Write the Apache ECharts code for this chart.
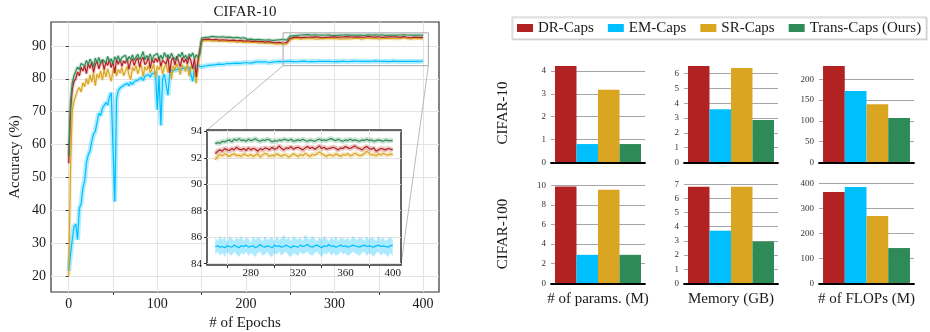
<!DOCTYPE html>
<html>
<head>
<meta charset="utf-8">
<script src="https://cdn.jsdelivr.net/npm/echarts@6/dist/echarts.min.js"></script>
<style>
  html, body { margin: 0; padding: 0; background: #fff; }
  #chart { width: 930px; height: 332px; }
</style>
</head>
<body>
<div id="chart"></div>
<script>
// ---- training curves (test accuracy, %), every 2 epochs ----
const epochs = [
  0,2,4,6,8,10,12,14,16,18, 20,22,24,26,28,30,32,34,36,38,
  40,42,44,46,48,50,52,54,56,58, 60,62,64,66,68,70,72,74,76,78,
  80,82,84,86,88,90,92,94,96,98, 100,102,104,106,108,110,112,114,116,118,
  120,122,124,126,128,130,132,134,136,138, 140,142,144,146,148,150,152,154,156,158,
  160,162,164,166,168,170,172,174,176,178, 180,182,184,186,188,190,192,194,196,198,
  200,202,204,206,208,210,212,214,216,218, 220,222,224,226,228,230,232,234,236,238,
  240,242,244,246,248,250,252,254,256,258, 260,262,264,266,268,270,272,274,276,278,
  280,282,284,286,288,290,292,294,296,298, 300,302,304,306,308,310,312,314,316,318,
  320,322,324,326,328,330,332,334,336,338, 340,342,344,346,348,350,352,354,356,358,
  360,362,364,366,368,370,372,374,376,378, 380,382,384,386,388,390,392,394,396,398,
  400
];
const transCaps = [
  56.3,72.5,78.8,81.0,82.3,83.6,82.8,84.7,85.2,83.9, 85.6,84.4,86.0,85.1,83.6,86.3,85.0,86.5,84.6,85.9,
  86.4,84.9,86.8,85.3,86.1,84.5,86.7,85.8,87.0,85.2, 86.5,85.9,87.2,85.4,86.8,86.0,87.3,85.7,86.6,87.5,
  85.9,86.9,88.3,85.8,87.1,86.3,87.6,85.6,87.0,86.4, 87.7,86.1,87.2,85.9,88.0,86.6,87.4,86.2,87.8,86.5,
  87.1,85.8,87.5,86.7,88.1,86.3,87.2,85.9,87.6,86.8, 87.9,86.1,87.3,86.5,87.6,92.4,92.9,92.6,93.1,92.7,
  92.5,92.9,92.6,92.8,92.4,92.7,92.5,92.8,92.3,92.6, 92.4,92.7,92.2,92.5,92.3,92.6,92.1,92.4,92.2,92.5,
  92.3,92.0,92.4,92.1,92.3,91.9,92.2,92.0,92.3,91.9, 92.1,91.8,92.1,91.9,92.2,91.7,92.0,91.8,91.6,91.9,
  91.7,92.0,91.6,91.8,91.7,93.05,93.15,93.1,93.25,93.2, 93.3,93.35,93.2,93.4,93.3,93.45,93.3,93.35,93.25,93.4,
  93.3,93.35,93.45,93.3,93.25,93.35,93.3,93.4,93.35,93.2, 93.3,93.25,93.35,93.3,93.4,93.35,93.3,93.4,93.25,93.3,
  93.35,93.3,93.4,93.3,93.25,93.35,93.3,93.25,93.35,93.4, 93.3,93.35,93.3,93.4,93.45,93.35,93.3,93.4,93.3,93.25,
  93.35,93.3,93.4,93.3,93.35,93.3,93.25,93.35,93.3,93.4, 93.3,93.35,93.25,93.3,93.35,93.3,93.25,93.35,93.3,93.3,
  93.3
];
const drCaps = [
  54.3,70.5,76.8,79.2,80.0,82.1,80.9,83.5,82.4,84.0, 81.6,84.6,83.2,85.1,82.0,84.3,85.4,83.0,84.9,85.6,
  82.8,85.0,84.1,85.8,83.4,85.2,81.7,85.9,84.4,86.0, 83.8,85.5,84.7,86.2,82.9,85.3,86.1,84.0,85.7,86.4,
  83.6,85.8,86.5,84.3,85.0,86.6,83.2,85.9,84.8,86.3, 85.1,86.7,83.9,85.6,86.2,84.5,86.8,81.8,85.7,86.4,
  84.2,86.9,85.3,83.7,86.5,85.0,86.1,84.6,86.8,85.4, 83.1,86.2,80.6,85.8,86.0,91.8,92.3,92.0,92.4,92.1,
  92.2,91.9,92.3,92.0,92.2,91.8,92.1,91.9,92.2,91.8, 92.0,91.7,92.1,91.8,91.9,91.6,91.9,91.7,91.8,91.5,
  91.8,91.6,91.7,91.4,91.7,91.5,91.6,91.3,91.6,91.4, 91.5,91.2,91.5,91.3,91.4,91.1,91.3,91.0,91.3,91.1,
  91.2,90.9,91.2,91.0,91.1,92.3,92.5,92.6,92.5,92.7, 92.6,92.55,92.7,92.6,92.8,92.65,92.6,92.7,92.55,92.75,
  92.6,92.7,92.65,92.5,92.7,92.6,92.75,92.7,92.6,92.8, 92.65,92.7,92.9,92.7,92.6,92.75,92.7,92.85,92.65,92.75,
  92.8,92.7,92.6,92.75,92.85,92.7,92.8,92.65,92.75,92.9, 92.7,92.8,92.65,92.7,92.75,92.8,92.7,92.6,92.75,92.7,
  92.85,92.75,92.7,92.8,92.9,92.75,92.7,92.6,92.75,92.85, 92.7,92.65,92.75,92.5,92.6,92.7,92.65,92.6,92.7,92.65,
  92.6
];
const srCaps = [
  19.8,52.0,70.3,73.2,73.8,76.5,77.4,76.0,78.8,77.6, 80.1,78.3,81.2,79.0,82.0,77.9,81.5,80.2,82.4,79.6,
  82.8,80.5,83.1,81.0,79.3,82.6,83.4,80.8,82.9,81.7, 83.5,80.9,82.3,83.8,81.2,79.8,83.6,82.4,84.0,81.5,
  83.2,84.2,80.7,83.7,82.6,84.1,81.8,83.0,84.4,80.5, 83.9,82.8,84.5,81.4,83.6,84.3,82.0,83.8,79.9,84.0,
  82.7,84.6,83.1,81.3,84.2,83.5,82.2,84.7,80.8,83.9, 84.4,82.5,78.6,84.1,83.7,91.3,91.9,91.6,92.0,91.7,
  91.8,91.5,91.9,91.6,91.8,91.4,91.7,91.5,91.8,91.4, 91.6,91.3,91.7,91.4,91.5,91.2,91.5,91.3,91.4,91.1,
  91.4,91.2,91.3,91.0,91.3,91.1,91.2,90.9,91.2,91.0, 91.1,90.8,91.1,90.9,91.0,90.7,90.9,90.6,90.9,90.7,
  90.8,90.5,90.8,90.6,90.7,91.85,92.1,92.25,92.15,92.3, 92.2,92.1,92.25,92.3,92.15,92.2,92.1,92.3,92.2,92.15,
  92.25,92.1,92.2,92.3,92.05,92.2,92.35,92.25,92.1,92.2, 92.15,92.3,92.2,92.1,92.25,92.2,92.05,92.15,92.3,92.2,
  92.1,92.25,92.15,92.35,92.2,92.1,92.25,92.2,92.3,92.45, 92.3,92.2,92.1,92.25,92.2,92.15,92.3,92.2,92.1,92.25,
  92.2,92.3,92.15,92.2,92.35,92.25,92.15,92.2,92.3,92.5, 92.35,92.2,92.25,92.15,92.3,92.2,92.35,92.25,92.2,92.3,
  92.2
];
const emCaps = [
  21.5,26.5,31.0,35.0,35.8,31.0,40.5,42.0,46.8,49.0, 54.5,56.8,58.0,60.9,63.2,64.0,66.8,69.5,68.8,71.0,
  71.2,72.8,72.0,74.5,75.8,76.2,42.6,74.0,76.5,77.2, 76.8,78.0,77.5,78.6,77.9,79.0,78.3,79.2,78.7,79.6,
  79.9,80.4,79.5,80.8,80.2,81.3,80.6,81.5,81.0,81.8, 70.6,81.0,65.8,80.2,81.4,80.9,75.0,81.6,82.5,82.0,
  82.6,82.1,83.0,82.4,83.1,82.7,83.3,82.9,83.4,83.0, 79.2,83.6,83.2,84.0,83.7,83.6,84.2,83.9,84.4,84.1,
  84.5,84.2,84.7,84.3,84.8,84.5,84.7,84.4,84.9,84.6, 84.8,84.6,85.0,84.7,84.9,84.8,85.0,84.7,85.1,84.9,
  85.0,84.9,85.1,84.8,85.0,85.1,84.9,85.2,85.0,85.1, 85.0,85.2,85.1,84.9,85.2,85.1,85.0,85.2,85.1,85.3,
  85.1,85.2,85.0,85.3,85.1,85.3,85.35,85.25,85.3,85.2, 85.35,85.3,85.25,85.4,85.3,85.2,85.35,85.3,85.4,85.25,
  85.3,85.35,85.2,85.3,85.45,85.3,85.25,85.35,85.3,85.2, 85.4,85.3,85.35,85.25,85.3,85.4,85.3,85.2,85.35,85.3,
  85.25,85.4,85.3,85.35,85.45,85.3,85.25,85.35,85.4,85.3, 85.2,85.35,85.3,85.45,85.3,85.35,85.25,85.3,85.4,85.3,
  85.35,85.25,85.3,85.4,85.35,85.3,85.25,85.35,85.4,85.3, 85.35,85.3,85.25,85.35,85.4,85.3,85.35,85.3,85.25,85.35,
  85.4
];
// EM-Caps spread band shown in the inset (epochs 250..400)
const emBandHi = [
  86.0,85.7,86.1,85.8,86.0,85.6,86.1,85.9,85.7,86.0, 85.8,86.1,85.7,86.0,85.9,85.6,86.1,85.8,86.0,85.9,
  85.7,86.1,85.8,85.9,86.0,85.7,86.1,85.8,85.9,86.2, 85.8,86.0,85.7,86.1,85.9,85.8,86.0,85.7,86.2,85.9,
  85.8,86.1,85.9,85.7,86.0,85.8,86.1,85.9,85.7,86.0, 85.8,86.1,85.7,86.0,85.9,85.8,86.0,85.7,86.1,85.9,
  85.8,86.0,85.9,85.7,86.1,85.8,86.0,85.9,85.7,86.1, 85.8,86.0,85.7,85.9,86.0,85.8
];
const emBandLo = [
  84.7,84.9,84.6,84.8,84.5,84.9,84.7,84.6,84.9,84.7, 84.5,84.8,84.7,84.9,84.6,84.8,84.7,84.5,84.8,84.9,
  84.6,84.7,84.9,84.6,84.5,84.8,84.7,84.9,84.6,84.8, 84.9,84.6,84.5,84.8,84.7,84.6,84.9,84.7,84.8,84.9,
  84.7,84.6,84.8,84.9,84.7,84.5,84.8,84.7,84.9,84.6, 84.8,84.6,84.7,84.9,84.7,84.8,84.6,84.7,84.9,84.8,
  84.7,84.6,84.8,84.9,84.6,84.8,84.7,84.5,84.8,84.9, 84.6,84.8,84.7,84.5,84.8,84.6
];

// ---- tick labels ----
const mainXLabels = [0, 100, 200, 300, 400];
const mainXTicks = [50, 150, 250, 350];
const mainXGrid = [0, 50, 100, 150, 200, 250, 300, 350, 400];
const mainYTicks = [20, 30, 40, 50, 60, 70, 80, 90];
const insetXLabels = [280, 320, 360, 400];
const insetXTicks = [260, 300, 340, 380];
const insetYTicks = [84, 86, 88, 90, 92, 94];
const insetStart = 250;
const zoomBox = [242, 406, 84, 94];

// ---- cost comparison bars ----
const methods = ['DR-Caps', 'EM-Caps', 'SR-Caps', 'Trans-Caps (Ours)'];
const colors = ['#b22222', '#00bfff', '#daa520', '#2e8b57'];
const metrics = ['# of params. (M)', 'Memory (GB)', '# of FLOPs (M)'];
const datasets = ['CIFAR-10', 'CIFAR-100'];
const c10Params = [4.22, 0.8, 3.18, 0.8];
const c10Memory = [6.52, 3.6, 6.38, 2.86];
const c10Flops = [232, 172, 140, 107];
const c100Params = [9.86, 2.9, 9.52, 2.9];
const c100Memory = [6.83, 3.72, 6.83, 2.95];
const c100Flops = [365, 385, 269, 141];
const barTicks = [
  [0, 1, 2, 3, 4], [0, 1, 2, 3, 4, 5, 6], [0, 50, 100, 150, 200],
  [0, 2, 4, 6, 8, 10], [0, 1, 2, 3, 4, 5, 6, 7], [0, 100, 200, 300, 400]
];
const barMax = [4.22, 6.52, 232, 10.22, 7.09, 401];

[transCaps, drCaps, srCaps, emCaps].forEach(a => {
  if (a.length !== epochs.length) throw new Error('length ' + a.length);
});

const FONT = 'Liberation Serif';
const TXT = '#1a1a1a';
const barValues = [c10Params, c10Memory, c10Flops, c100Params, c100Memory, c100Flops];
const barLeft = [551, 684, 819];
const barWidth = [94, 94, 95];
const rowTop = [66, 183];
const rowHeight = [96.3, 100.3];

const chart = echarts.init(document.getElementById('chart'));

const grids = [
  { left: 51, top: 22, width: 388, height: 270, show: true, borderColor: '#333', borderWidth: 1.2 },
  { left: 207, top: 130, width: 194, height: 135, show: true, backgroundColor: '#fff',
    borderColor: '#333', borderWidth: 1.5, z: 5 }
];
const xAxes = [
  { gridIndex: 0, type: 'value', min: -20, max: 418, position: 'bottom',
    axisLine: { show: false },
    axisTick: { show: false, customValues: mainXGrid },
    axisLabel: { customValues: mainXLabels, fontFamily: FONT, fontSize: 14, color: TXT, margin: 5 },
    splitLine: { show: true, lineStyle: { color: '#e3e3e3', width: 1 } } },
  { gridIndex: 0, type: 'value', min: -20, max: 418, position: 'bottom',
    axisLine: { show: false },
    axisTick: { show: true, customValues: mainXTicks, length: 3, lineStyle: { color: '#333' } },
    axisLabel: { show: false }, splitLine: { show: false } },
  { gridIndex: 1, type: 'value', min: 243, max: 407, position: 'bottom', z: 6,
    axisLine: { show: false },
    axisTick: { show: true, customValues: insetXTicks, length: 3, lineStyle: { color: '#333' } },
    axisLabel: { customValues: insetXLabels, fontFamily: FONT, fontSize: 11, color: TXT, margin: 3 },
    splitLine: { show: true, lineStyle: { color: '#e3e3e3', width: 1 } } }
];
const yAxes = [
  { gridIndex: 0, type: 'value', min: 15.1, max: 97.3,
    axisLine: { show: false },
    axisTick: { show: true, customValues: mainYTicks, length: 3, lineStyle: { color: '#333' } },
    axisLabel: { customValues: mainYTicks, fontFamily: FONT, fontSize: 14, color: TXT, margin: 5 },
    splitLine: { show: true, lineStyle: { color: '#e3e3e3', width: 1 } } },
  { gridIndex: 1, type: 'value', min: 83.9, max: 94.1, z: 6,
    axisLine: { show: false },
    axisTick: { show: true, customValues: insetYTicks, length: 3, lineStyle: { color: '#333' } },
    axisLabel: { customValues: insetYTicks, fontFamily: FONT, fontSize: 11, color: TXT, margin: 5 },
    splitLine: { show: true, lineStyle: { color: '#e3e3e3', width: 1 } } }
];
const series = [];

// bar panels (first so that the legend takes rect icons from them)
for (let g = 0; g < 6; g++) {
  const r = Math.floor(g / 3), c = g % 3;
  grids.push({ left: barLeft[c], top: rowTop[r], width: barWidth[c], height: rowHeight[r] });
  xAxes.push({ gridIndex: 2 + g, type: 'category', data: [''], z: 3,
    axisLine: { show: true, lineStyle: { color: '#000', width: 1.8 } },
    axisTick: { show: false }, axisLabel: { show: false } });
  yAxes.push({ gridIndex: 2 + g, type: 'value', min: 0, max: barMax[g],
    axisLine: { show: false },
    axisTick: { show: false, customValues: barTicks[g] },
    axisLabel: { customValues: barTicks[g], fontFamily: FONT, fontSize: 9, color: '#333', margin: 5 },
    splitLine: { show: true, lineStyle: { color: '#a6a6a6', width: 1.2 } } });
  methods.forEach((m, k) => {
    series.push({ type: 'bar', name: m, xAxisIndex: 3 + g, yAxisIndex: 2 + g,
      data: [barValues[g][k]], itemStyle: { color: colors[k] },
      barGap: '0%', barCategoryGap: '8.5%' });
  });
}

// training curves
const curves = [emCaps, srCaps, drCaps, transCaps];
const curveIdx = [1, 2, 0, 3];
const pairs = arr => epochs.map((e, i) => [e, arr[i]]);
const tail = arr => pairs(arr).filter(p => p[0] >= insetStart);

curves.forEach((arr, n) => {
  const k = curveIdx[n];
  series.push({ type: 'line', name: methods[k] + ' band', xAxisIndex: 0, yAxisIndex: 0,
    data: pairs(arr), symbol: 'none', silent: true,
    lineStyle: { color: colors[k], width: k === 1 ? 5 : 3.5, opacity: k === 1 ? 0.3 : 0.22 } });
});
curves.forEach((arr, n) => {
  const k = curveIdx[n];
  series.push({ type: 'line', name: methods[k], xAxisIndex: 0, yAxisIndex: 0,
    data: pairs(arr), symbol: 'none', itemStyle: { color: colors[k] },
    lineStyle: { color: colors[k], width: 1.2 } });
});

// inset: EM-Caps spread drawn as one polygon through the inset axes
const bandEpochs = epochs.filter(e => e >= insetStart);
series.push({
  type: 'custom', name: 'em band', coordinateSystem: 'cartesian2d',
  xAxisIndex: 2, yAxisIndex: 1, z: 7, silent: true, clip: true,
  data: bandEpochs.map((e, i) => [e, emBandLo[i], emBandHi[i]]),
  encode: { x: 0, y: [1, 2] },
  renderItem: (params, api) => {
    if (params.dataIndex !== 0) return null;
    const up = bandEpochs.map((e, i) => api.coord([e, emBandHi[i]]));
    const lo = bandEpochs.map((e, i) => api.coord([e, emBandLo[i]])).reverse();
    return { type: 'polygon', shape: { points: up.concat(lo) },
      style: { fill: 'rgba(0,191,255,0.33)', stroke: null } };
  }
});
curves.forEach((arr, n) => {
  const k = curveIdx[n];
  if (k === 1) return;
  series.push({ type: 'line', name: methods[k] + ' iband', xAxisIndex: 2, yAxisIndex: 1, z: 7,
    data: tail(arr), symbol: 'none', silent: true,
    lineStyle: { color: colors[k], width: 5, opacity: 0.25 } });
});
curves.forEach((arr, n) => {
  const k = curveIdx[n];
  series.push({ type: 'line', name: methods[k], xAxisIndex: 2, yAxisIndex: 1, z: 8,
    data: tail(arr), symbol: 'none', itemStyle: { color: colors[k] },
    lineStyle: { color: colors[k], width: 1.2 } });
});

chart.setOption({
  animation: false,
  grid: grids,
  xAxis: xAxes,
  yAxis: yAxes,
  legend: {
    data: methods, left: 512, top: 17, width: 412, icon: 'rect', itemWidth: 16, itemHeight: 8,
    itemGap: 14, padding: [3, 5, 3, 5], borderColor: '#cfcfcf', borderWidth: 1,
    shadowColor: 'rgba(0,0,0,0.12)', shadowOffsetX: 1, shadowOffsetY: 1,
    backgroundColor: '#fff',
    textStyle: { fontFamily: FONT, fontSize: 15, color: TXT, lineHeight: 16 }
  },
  series: series
});

const text = (str, x, y, size, rot) => ({
  type: 'text', x: x, y: y, rotation: rot || 0, z: 10, silent: true,
  style: { text: str, font: size + 'px "' + FONT + '"', fill: TXT,
    textAlign: 'center', textVerticalAlign: 'middle', verticalAlign: 'middle' }
});
const a = chart.convertToPixel({ xAxisIndex: 0, yAxisIndex: 0 }, [zoomBox[0], zoomBox[3]]);
const b = chart.convertToPixel({ xAxisIndex: 0, yAxisIndex: 0 }, [zoomBox[1], zoomBox[2]]);
const iTL = chart.convertToPixel({ xAxisIndex: 2, yAxisIndex: 1 }, [243, 94.1]);
const iBR = chart.convertToPixel({ xAxisIndex: 2, yAxisIndex: 1 }, [407, 83.9]);
const graphics = [
  { type: 'rect', z: 4, silent: true,
    shape: { x: a[0], y: a[1], width: b[0] - a[0], height: b[1] - a[1] },
    style: { fill: 'none', stroke: '#a8a8a8', lineWidth: 1 } },
  { type: 'line', z: 4, silent: true, shape: { x1: a[0], y1: b[1], x2: iTL[0], y2: iTL[1] },
    style: { stroke: '#a8a8a8', lineWidth: 0.8 } },
  { type: 'line', z: 4, silent: true, shape: { x1: b[0], y1: b[1], x2: iBR[0], y2: iBR[1] },
    style: { stroke: '#a8a8a8', lineWidth: 0.8 } },
  text('CIFAR-10', 245, 12, 15),
  text('Accuracy (%)', 15, 157, 15, Math.PI / 2),
  text('# of Epochs', 245, 323, 15),
  text(datasets[0], 503, 113, 15, Math.PI / 2),
  text(datasets[1], 503, 234, 15, Math.PI / 2)
];
metrics.forEach((m, c) => graphics.push(text(m, barLeft[c] + barWidth[c] / 2, 299, 15)));
chart.setOption({ graphic: graphics });
</script>
</body>
</html>
